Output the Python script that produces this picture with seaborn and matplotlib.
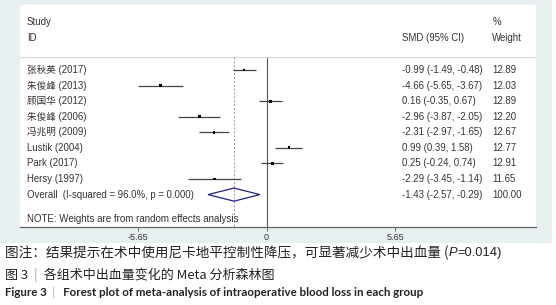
import seaborn as sns
import pandas as pd
import numpy as np
import matplotlib.pyplot as plt
from matplotlib.patches import Rectangle

sns.set_style("white")
plt.rcParams['font.family'] = ['Liberation Sans', 'Noto Sans CJK SC', 'DejaVu Sans']

# data
studies = ['张秋英 (2017)', '朱俊峰 (2013)', '顾国华 (2012)', '朱俊峰 (2006)',
           '冯兆明 (2009)', 'Lustik (2004)', 'Park (2017)', 'Hersy (1997)']
smd = [-0.99, -4.66, 0.16, -2.96, -2.31, 0.99, 0.25, -2.29]
ci_low = [-1.49, -5.65, -0.35, -3.87, -2.97, 0.39, -0.24, -3.45]
ci_high = [-0.48, -3.67, 0.67, -2.05, -1.65, 1.58, 0.74, -1.14]
weights = [12.89, 12.03, 12.89, 12.20, 12.67, 12.77, 12.91, 11.65]
overall = [-1.43, -2.57, -0.29]
overall_weight = 100.00
ticks = [-5.65, 0, 5.65]

df = pd.DataFrame({"study": studies, "smd": smd, "lo": ci_low, "hi": ci_high, "w": weights})
df["row"] = np.arange(len(df))
overall_row = len(df)

W, H = 556, 305
fig = plt.figure(figsize=(W / 100, H / 100), dpi=100)
fig.patch.set_facecolor("white")
fig.patches.append(Rectangle((0, (H - 243) / H), 552 / W, 243 / H, transform=fig.transFigure,
                             facecolor="#e8eff1", edgecolor="none", zorder=-5))

ax = fig.add_axes([20 / W, (H - 227) / H, (536 - 20) / W, (227 - 5) / H])
ax.set_facecolor("white")
ax.set_xlim(-10.83, 11.84)
ax.set_ylim(10.08, -4.17)

txt = "#333333"
fs = 6.9

# reference lines
ax.plot([0, 0], [-0.83, 10.08], color="#555555", lw=0.8, zorder=1)
ax.plot([overall[0]] * 2, [-0.83, 10.08], color="#b58590", lw=0.7, ls=(0, (2, 2)), zorder=1)
ax.plot([-10.83, 11.84], [-0.83, -0.83], color="#d4d4d4", lw=0.7, zorder=1)

# confidence intervals and point estimates
ax.hlines(df["row"], df["lo"], df["hi"], color="#444444", lw=0.9, zorder=2)
sns.scatterplot(data=df, x="smd", y="row", marker="s", s=4, color="black",
                edgecolor="none", ax=ax, zorder=3, legend=False)

# pooled diamond
dh = 0.42
ax.fill([overall[1], overall[0], overall[2], overall[0]],
        [overall_row, overall_row - dh, overall_row, overall_row + dh],
        facecolor="none", edgecolor="#1c2288", lw=0.9, zorder=3)

# columns of text
ylab = ax.get_yaxis_transform()
xs, xsmd, xw = 0.0136, 0.740, 0.915
ax.text(xs, -3.08, "Study", transform=ylab, fontsize=fs, color=txt, va="center")
ax.text(xs, -2.06, "ID", transform=ylab, fontsize=fs, color=txt, va="center")
ax.text(xsmd, -2.06, "SMD (95% CI)", transform=ylab, fontsize=fs, color=txt, va="center")
ax.text(xw, -3.08, "%", transform=ylab, fontsize=fs, color=txt, va="center")
ax.text(xw, -2.06, "Weight", transform=ylab, fontsize=fs, color=txt, va="center")

for r in df.itertuples():
    ax.text(xs, r.row, r.study, transform=ylab, fontsize=fs, color=txt, va="center")
    ax.text(xsmd, r.row, f"{r.smd:.2f} ({r.lo:.2f}, {r.hi:.2f})", transform=ylab,
            fontsize=fs, color=txt, va="center")
    ax.text(xw, r.row, f"{r.w:.2f}", transform=ylab, fontsize=fs, color=txt, va="center")

ax.text(xs, overall_row, "Overall  (I-squared = 96.0%, p = 0.000)", transform=ylab,
        fontsize=fs, color=txt, va="center")
ax.text(xsmd, overall_row, f"{overall[0]:.2f} ({overall[1]:.2f}, {overall[2]:.2f})",
        transform=ylab, fontsize=fs, color=txt, va="center")
ax.text(xw, overall_row, f"{overall_weight:.2f}", transform=ylab, fontsize=fs, color=txt, va="center")
ax.text(xs, 9.57, "NOTE: Weights are from random effects analysis", transform=ylab,
        fontsize=7.0, color=txt, va="center")

# axis
sns.despine(ax=ax, left=True, top=True, right=True)
ax.spines["bottom"].set_color("#666666")
ax.spines["bottom"].set_linewidth(0.9)
ax.set_yticks([])
ax.set_xticks(ticks)
ax.set_xticklabels(["-5.65", "0", "5.65"])
ax.tick_params(axis="x", bottom=True, length=3, width=0.7, color="#666666",
               labelsize=6.5, labelcolor=txt, pad=1.5)
ax.set_xlabel("")
ax.set_ylabel("")

# captions
cj = ['Noto Sans CJK SC', 'DejaVu Sans']
cc = "#222222"
t1 = fig.text(5 / W, 1 - 253 / H, "图注：结果提示在术中使用尼卡地平控制性降压，可显著减少术中出血量 (",
              fontsize=9.8, family=cj, color=cc, va="center")
t2 = ax.annotate("P", xy=(1, 0.5), xycoords=t1, fontsize=9.3, family=['Liberation Sans'],
                 style="italic", color=cc, va="center", annotation_clip=False)
ax.annotate("=0.014)", xy=(1, 0.5), xycoords=t2, fontsize=9.3, family=['Liberation Sans'],
            color=cc, va="center", annotation_clip=False)

c1 = fig.text(5 / W, 1 - 275 / H, "图 3  ", fontsize=9.4, family=cj, color=cc, va="center")
c2 = ax.annotate("|", xy=(1, 0.5), xycoords=c1, fontsize=9.4, family=cj, color="#aaaaaa",
                 va="center", annotation_clip=False)
ax.annotate("  各组术中出血量变化的 Meta 分析森林图", xy=(1, 0.5), xycoords=c2, fontsize=9.4,
            family=cj, color=cc, va="center", annotation_clip=False)

f1 = fig.text(5 / W, 1 - 293 / H, "Figure 3  ", fontsize=8.3, family=['Lato', 'DejaVu Sans'],
              weight="bold", color=cc, va="center")
f2 = ax.annotate("|", xy=(1, 0.5), xycoords=f1, fontsize=8.3, family=['Lato', 'DejaVu Sans'],
                 color="#aaaaaa", va="center", annotation_clip=False)
ax.annotate("   Forest plot of meta-analysis of intraoperative blood loss in each group",
            xy=(1, 0.5), xycoords=f2, fontsize=8.3, family=['Lato', 'DejaVu Sans'],
            weight="bold", color=cc, va="center", annotation_clip=False)

fig.savefig("out.png", dpi=100)
